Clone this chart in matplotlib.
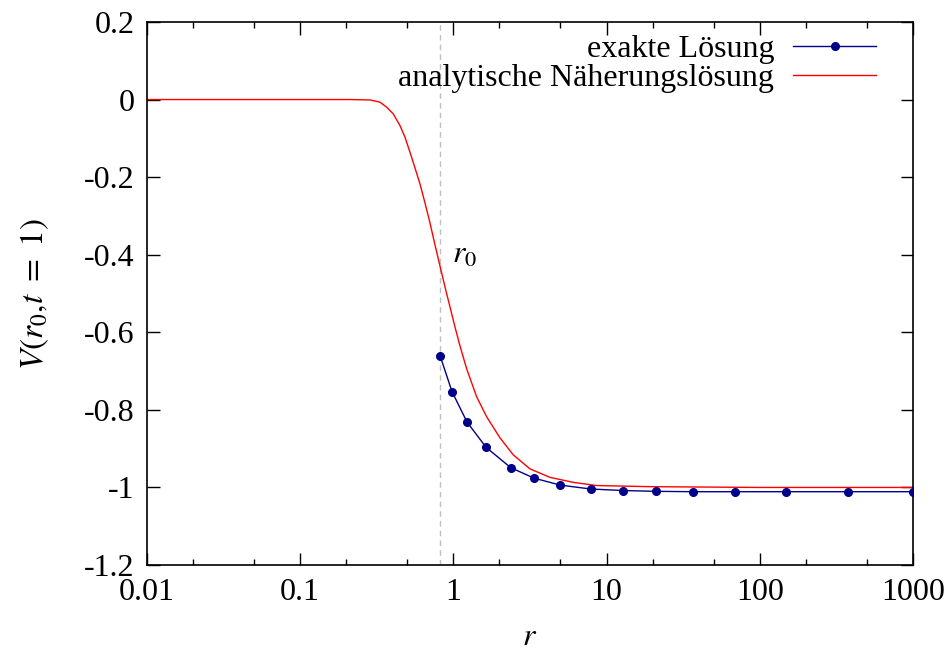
import matplotlib
matplotlib.use("Agg")
import matplotlib.pyplot as plt
from matplotlib.ticker import LogLocator, NullFormatter

plt.rcParams['font.family'] = ['Liberation Serif', 'DejaVu Serif']
plt.rcParams['mathtext.fontset'] = 'stix'
plt.rcParams['axes.unicode_minus'] = False

# exact solution
r_exact = [0.82, 0.98, 1.23, 1.64, 2.37, 3.36, 4.99, 7.87, 12.9, 20.9,
           36.8, 68.6, 148, 378, 1000]
v_exact = [-0.661, -0.753, -0.832, -0.897, -0.949, -0.976, -0.994, -1.004,
           -1.008, -1.010, -1.011, -1.011, -1.011, -1.011, -1.011]

# analytic approximation (sampled off the curve)
r_approx = [0.01, 0.1, 0.2114, 0.2856, 0.3318, 0.3669, 0.4052, 0.4481, 0.4831,
            0.5208, 0.5615, 0.6053, 0.6526, 0.7036, 0.7585, 0.8263, 0.8814,
            0.9502, 1.0243, 1.1043, 1.2214, 1.4194, 1.650, 2.015, 2.460,
            3.162, 4.271, 6.063, 8.617, 19.2, 100, 1000]
v_approx = [0.0, 0.0, 0.0, -0.001, -0.0067, -0.0196, -0.0369, -0.0670,
            -0.0969, -0.1356, -0.1761, -0.2173, -0.2663, -0.3179, -0.3746,
            -0.4365, -0.4829, -0.5344, -0.5860, -0.6350, -0.6942, -0.7664,
            -0.8180, -0.8721, -0.9160, -0.9521, -0.9740, -0.9869, -0.9951,
            -0.998, -1.0, -1.0]

r0 = 0.82
y_ticks = [0.2, 0.0, -0.2, -0.4, -0.6, -0.8, -1.0, -1.2]
y_labels = ['0.2', '0', '-0.2', '-0.4', '-0.6', '-0.8', '-1', '-1.2']
x_ticks = [0.01, 0.1, 1, 10, 100, 1000]
x_labels = ['0.01', '0.1', '1', '10', '100', '1000']

fig = plt.figure(figsize=(9.5, 6.52), dpi=100)
ax = fig.add_axes([0.1547, 0.1334, 0.8063, 0.8329])

ax.axvline(r0, color='#c0c0c0', lw=1, ls=(0, (4, 3)), zorder=1)
ax.plot(r_exact, v_exact, color='#00008b', lw=1, marker='o', ms=5.5,
        label='exakte Lösung', zorder=3)
ax.plot(r_approx, v_approx, color='#ff0000', lw=1,
        label='analytische Näherungslösung', zorder=2)

ax.set_xscale('log')
ax.set_xlim(0.01, 1000)
ax.set_ylim(-1.2, 0.2)
ax.set_xticks(x_ticks)
ax.set_xticklabels(x_labels)
ax.xaxis.set_minor_locator(LogLocator(base=10, subs=(2.0, 5.0)))
ax.xaxis.set_minor_formatter(NullFormatter())
ax.set_yticks(y_ticks)
ax.set_yticklabels(y_labels)

ax.tick_params(which='both', direction='in', top=True, right=True,
               labelsize=23, width=1)
ax.tick_params(which='major', length=9, pad=9)
ax.tick_params(which='minor', length=4.5)
for s in ax.spines.values():
    s.set_linewidth(1.2)

ax.set_xlabel('$r$', fontsize=23, labelpad=12)
ax.set_ylabel('$V(r_0{,}t\\ =\\ 1)$', fontsize=24, labelpad=24)

ax.text(0.98, -0.421, '$r_0$', fontsize=23)

ax.legend(loc='upper right', frameon=False, markerfirst=False, fontsize=23,
          handlelength=2.6, handletextpad=0.6, labelspacing=0.0,
          borderaxespad=0.0, bbox_to_anchor=(0.969, 1.0))

fig.savefig('out.png', dpi=100)
